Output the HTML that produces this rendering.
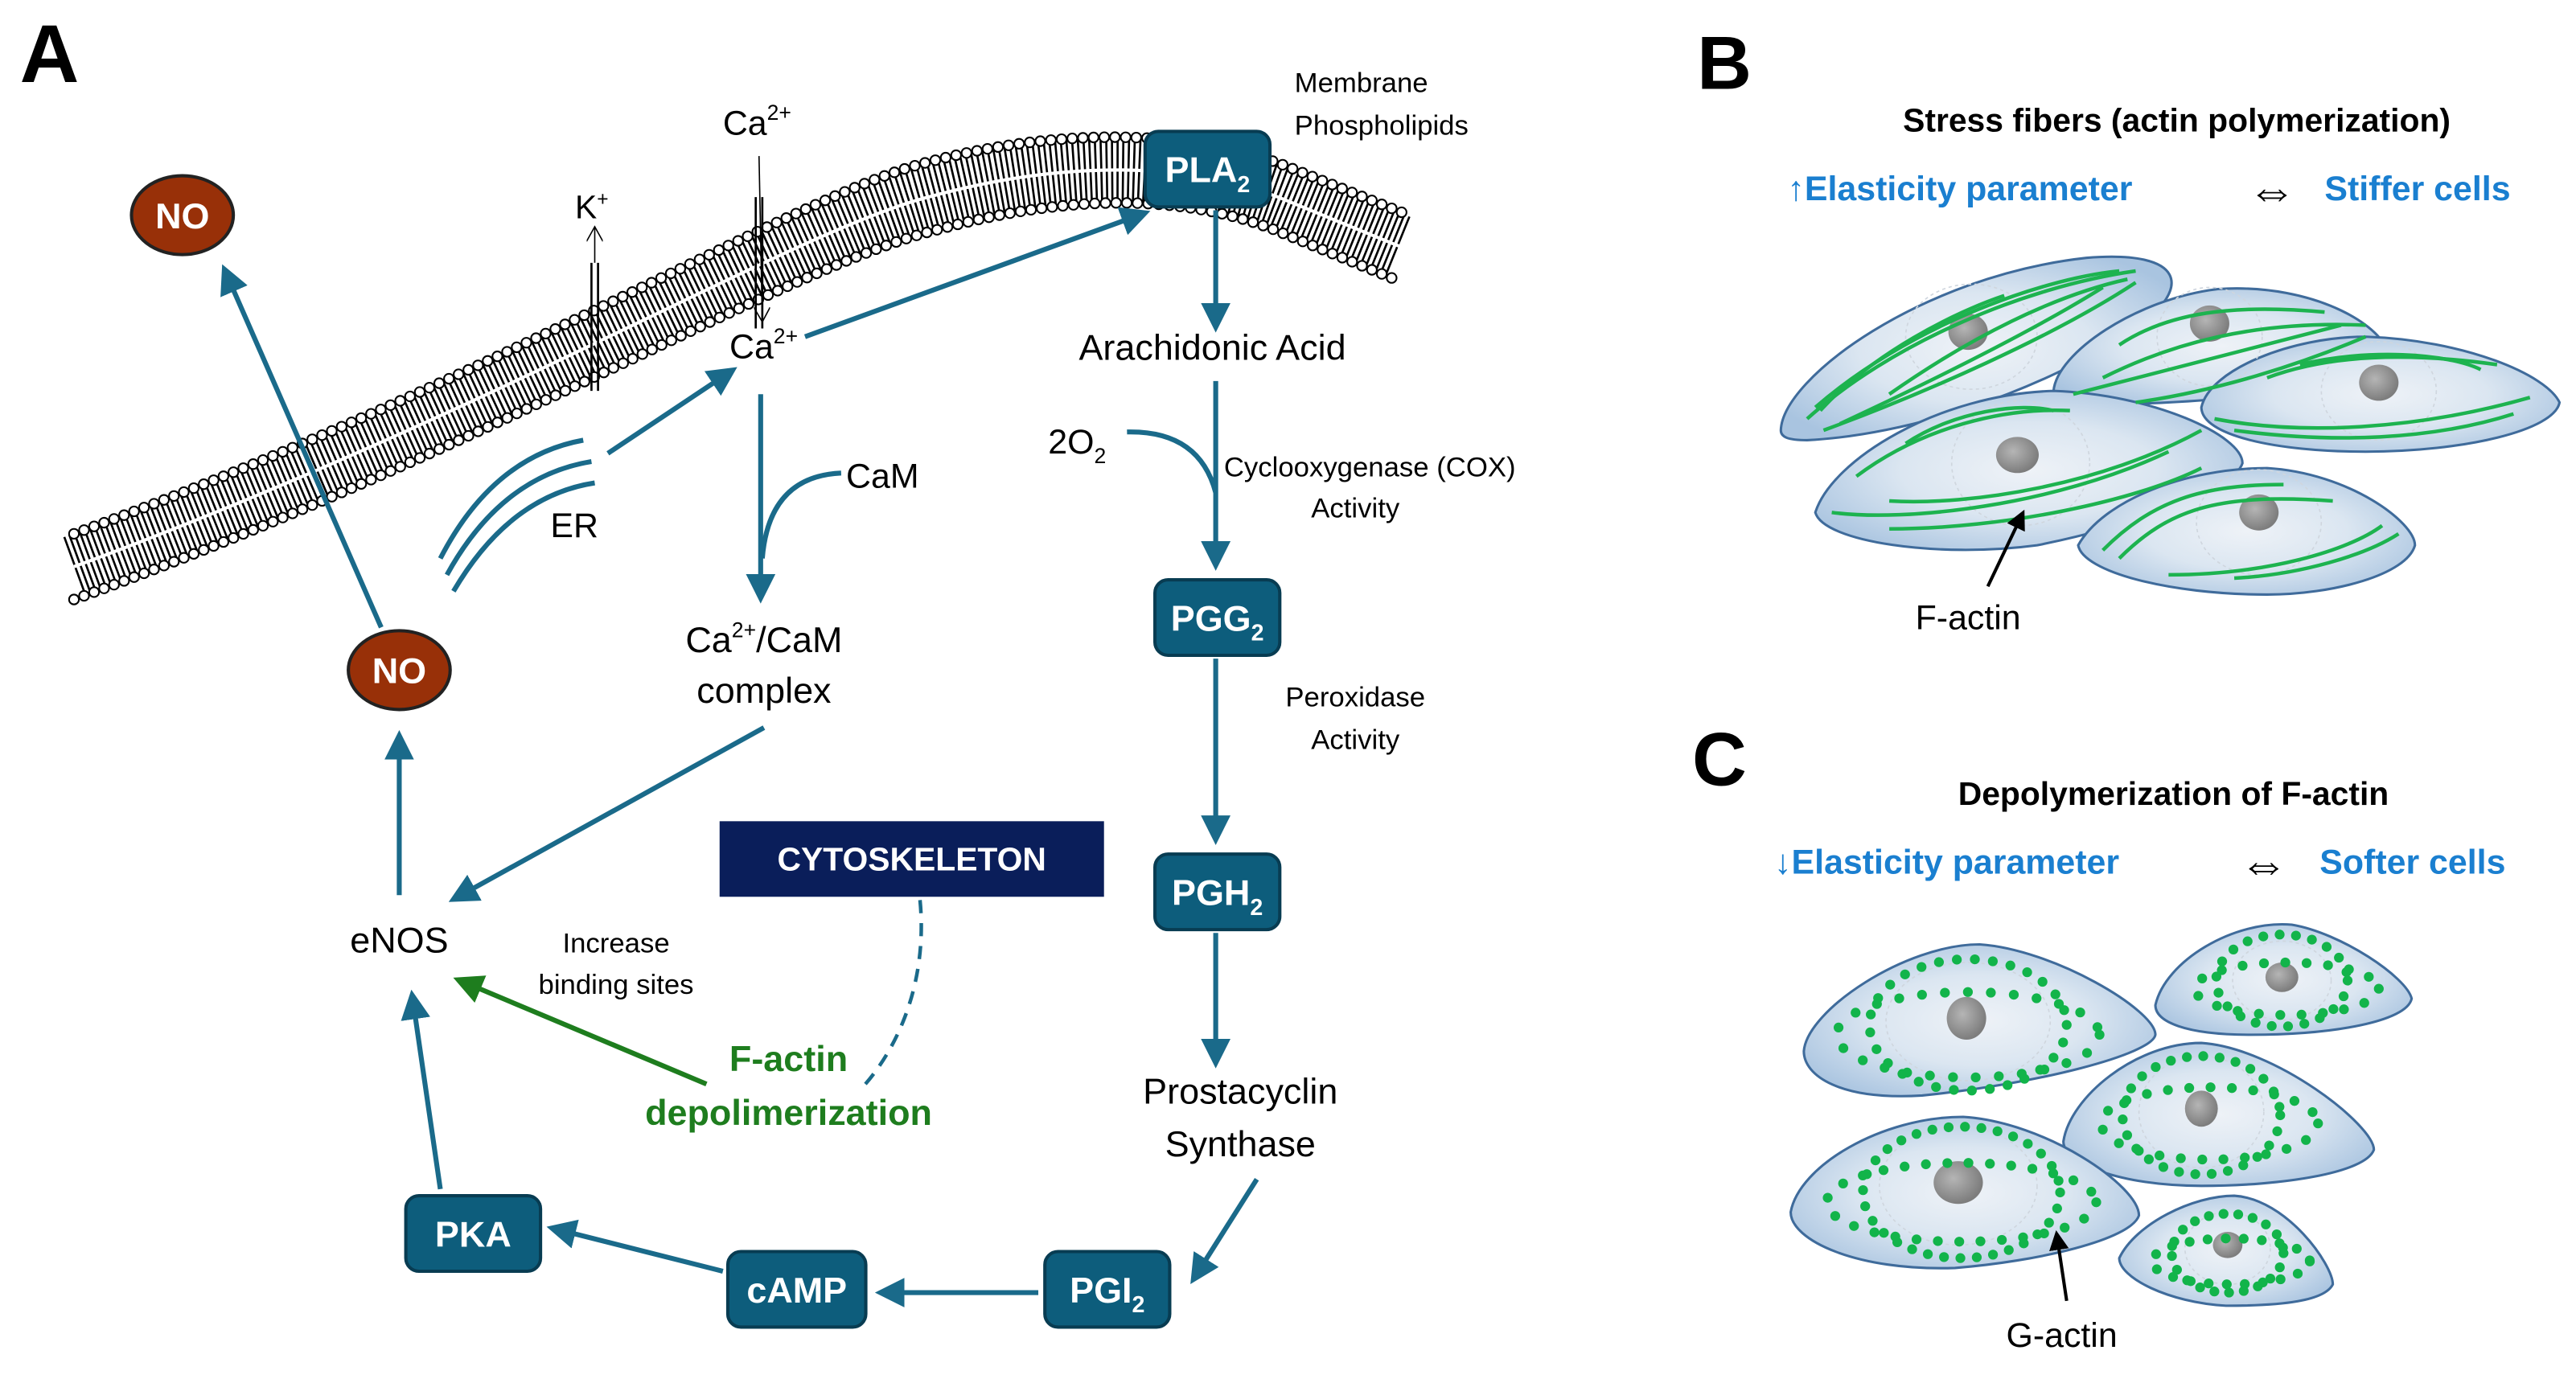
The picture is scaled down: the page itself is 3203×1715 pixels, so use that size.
<!DOCTYPE html>
<html><head><meta charset="utf-8"><style>
html,body{margin:0;padding:0;background:#fff;}
svg{display:block;}
text{font-family:"Liberation Sans","DejaVu Sans",sans-serif;}
</style></head><body>
<svg width="3203" height="1715" viewBox="0 0 1568 839.6" xmlns="http://www.w3.org/2000/svg">
<defs>
<marker id="ah" markerWidth="6" markerHeight="6" refX="4.5" refY="3" orient="auto" markerUnits="strokeWidth"><path d="M0,0 L6,3 L0,6 Z" fill="#1a6a8a"/></marker>
<marker id="ag" markerWidth="6" markerHeight="6" refX="4.5" refY="3" orient="auto" markerUnits="strokeWidth"><path d="M0,0 L6,3 L0,6 Z" fill="#1e7d1e"/></marker>
<marker id="ak" markerWidth="6" markerHeight="6" refX="4.5" refY="3" orient="auto" markerUnits="strokeWidth"><path d="M0,0 L6,3 L0,6 Z" fill="#000"/></marker>
<marker id="at" markerWidth="10" markerHeight="10" refX="9" refY="5" orient="auto" markerUnits="userSpaceOnUse"><path d="M0,0 L9,5 L0,10" fill="none" stroke="#000" stroke-width="0.8"/></marker>
<radialGradient id="cg" cx="0.5" cy="0.5" r="0.6"><stop offset="0" stop-color="#eef2f7"/><stop offset="0.5" stop-color="#dbe6f1"/><stop offset="1" stop-color="#a9c4e0"/></radialGradient>
<radialGradient id="ng" cx="0.4" cy="0.4" r="0.6"><stop offset="0" stop-color="#b5b5b5"/><stop offset="1" stop-color="#7d7d7d"/></radialGradient>
</defs>

<!-- Membrane -->
<path d="M45,345 C300,252 480,142 565,120 C645,98 720,98 778,120 L852,150" fill="none" stroke="#000" stroke-width="38" stroke-dasharray="1.3 2"/>
<path d="M45,345 C300,252 480,142 565,120 C645,98 720,98 778,120 L852,150" fill="none" stroke="#fff" stroke-width="2"/>
<path d="M45,325 C300,232 480,122 560,100 C640,78 720,78 780,100 L855,130" fill="none" stroke="#000" stroke-width="7" stroke-linecap="round" stroke-dasharray="0 6.5"/>
<path d="M45,325 C300,232 480,122 560,100 C640,78 720,78 780,100 L855,130" fill="none" stroke="#fff" stroke-width="5" stroke-linecap="round" stroke-dasharray="0 6.5"/>
<path d="M45,365 C300,272 480,162 570,140 C650,118 720,118 776,140 L849,170" fill="none" stroke="#000" stroke-width="7" stroke-linecap="round" stroke-dasharray="0 6.5"/>
<path d="M45,365 C300,272 480,162 570,140 C650,118 720,118 776,140 L849,170" fill="none" stroke="#fff" stroke-width="5" stroke-linecap="round" stroke-dasharray="0 6.5"/>

<!-- channels -->
<line x1="360" y1="160" x2="360" y2="238" stroke="#000" stroke-width="1.3"/>
<line x1="364" y1="160" x2="364" y2="238" stroke="#000" stroke-width="1.3"/>
<line x1="362" y1="160" x2="362" y2="138" stroke="#000" stroke-width="0.8" marker-end="url(#at)"/>
<text x="350" y="133" font-size="20">K<tspan font-size="12" dy="-8">+</tspan></text>
<line x1="460" y1="120" x2="460" y2="200" stroke="#000" stroke-width="1.3"/>
<line x1="464" y1="120" x2="464" y2="200" stroke="#000" stroke-width="1.3"/>
<line x1="462" y1="95" x2="464" y2="196" stroke="#000" stroke-width="0.8" marker-end="url(#at)"/>
<text x="440" y="82" font-size="21">Ca<tspan font-size="13" dy="-9">2+</tspan></text>
<text x="444" y="218" font-size="21">Ca<tspan font-size="13" dy="-9">2+</tspan></text>

<text x="12" y="50" font-size="50" font-weight="bold">A</text>

<!-- NO circles -->
<ellipse cx="111" cy="131" rx="31" ry="24" fill="#983008" stroke="#222" stroke-width="2"/>
<text x="111" y="139" font-size="22" font-weight="bold" fill="#fff" text-anchor="middle">NO</text>
<ellipse cx="243" cy="408" rx="31" ry="24" fill="#983008" stroke="#222" stroke-width="2"/>
<text x="243" y="416" font-size="22" font-weight="bold" fill="#fff" text-anchor="middle">NO</text>

<g stroke="#1a6a8a" stroke-width="3" fill="none">
<line x1="232" y1="382" x2="137" y2="165" marker-end="url(#ah)"/>
<line x1="490" y1="205" x2="696" y2="130" marker-end="url(#ah)"/>
<line x1="740" y1="128" x2="740" y2="198" marker-end="url(#ah)"/>
<line x1="740" y1="232" x2="740" y2="343" marker-end="url(#ah)"/>
<path d="M686,263 Q730,262 740,300"/>
<line x1="740" y1="401" x2="740" y2="510" marker-end="url(#ah)"/>
<line x1="740" y1="568" x2="740" y2="646" marker-end="url(#ah)"/>
<line x1="765" y1="718" x2="727" y2="778" marker-end="url(#ah)"/>
<line x1="632" y1="787" x2="537" y2="787" marker-end="url(#ah)"/>
<line x1="440" y1="774" x2="337" y2="748" marker-end="url(#ah)"/>
<line x1="268" y1="724" x2="251" y2="607" marker-end="url(#ah)"/>
<line x1="243" y1="545" x2="243" y2="449" marker-end="url(#ah)"/>
<line x1="465" y1="443" x2="277" y2="547" marker-end="url(#ah)"/>
<line x1="463" y1="240" x2="463" y2="363" marker-end="url(#ah)"/>
<path d="M512,288 Q468,290 464,340"/>
<line x1="370" y1="276" x2="445" y2="226" marker-end="url(#ah)"/>
<path d="M268,340 Q300,278 355,268"/>
<path d="M272,350 Q305,290 360,281"/>
<path d="M276,360 Q310,302 362,294"/>
<path d="M560,548 C565,600 545,640 525,662" stroke-dasharray="8 6" stroke-width="2.2"/>
</g>

<!-- boxes -->
<g fill="#0d5d7c" stroke="#083c52" stroke-width="2">
<rect x="697" y="80" width="76" height="46" rx="8"/>
<rect x="703" y="353" width="76" height="46" rx="8"/>
<rect x="703" y="520" width="76" height="46" rx="8"/>
<rect x="636" y="762" width="76" height="46" rx="8"/>
<rect x="443" y="762" width="84" height="46" rx="8"/>
<rect x="247" y="728" width="82" height="46" rx="8"/>
</g>
<g fill="#fff" font-weight="bold" font-size="22" text-anchor="middle">
<text x="735" y="111">PLA<tspan font-size="14" dy="6">2</tspan></text>
<text x="741" y="384">PGG<tspan font-size="14" dy="6">2</tspan></text>
<text x="741" y="551">PGH<tspan font-size="14" dy="6">2</tspan></text>
<text x="674" y="793">PGI<tspan font-size="14" dy="6">2</tspan></text>
<text x="485" y="793">cAMP</text>
<text x="288" y="759">PKA</text>
</g>
<rect x="438" y="500" width="234" height="46" fill="#0a1e5a"/>
<text x="555" y="530" fill="#fff" font-weight="bold" font-size="20" text-anchor="middle">CYTOSKELETON</text>

<!-- labels -->
<text x="788" y="56" font-size="17">Membrane</text>
<text x="788" y="82" font-size="17">Phospholipids</text>
<text x="738" y="219" font-size="22" text-anchor="middle">Arachidonic Acid</text>
<text x="638" y="276" font-size="21">2O<tspan font-size="13" dy="6">2</tspan></text>
<text x="745" y="290" font-size="17">Cyclooxygenase (COX)</text>
<text x="825" y="315" font-size="17" text-anchor="middle">Activity</text>
<text x="825" y="430" font-size="17" text-anchor="middle">Peroxidase</text>
<text x="825" y="456" font-size="17" text-anchor="middle">Activity</text>
<text x="755" y="672" font-size="22" text-anchor="middle">Prostacyclin</text>
<text x="755" y="704" font-size="22" text-anchor="middle">Synthase</text>
<text x="243" y="580" font-size="22" text-anchor="middle">eNOS</text>
<text x="515" y="297" font-size="21">CaM</text>
<text x="465" y="397" font-size="22" text-anchor="middle">Ca<tspan font-size="13" dy="-9">2+</tspan><tspan dy="9">/CaM</tspan></text>
<text x="465" y="428" font-size="22" text-anchor="middle">complex</text>
<text x="335" y="327" font-size="21">ER</text>
<text x="375" y="580" font-size="17" text-anchor="middle">Increase</text>
<text x="375" y="605" font-size="17" text-anchor="middle">binding sites</text>
<text x="480" y="652" font-size="22" font-weight="bold" fill="#1e7d1e" text-anchor="middle">F-actin</text>
<text x="480" y="685" font-size="22" font-weight="bold" fill="#1e7d1e" text-anchor="middle">depolimerization</text>
<line x1="430" y1="660" x2="280" y2="597" stroke="#1e7d1e" stroke-width="3" marker-end="url(#ag)"/>

<!-- Panel B -->
<text x="1033" y="54" font-size="46" font-weight="bold">B</text>
<text x="1325" y="80" font-size="20" font-weight="bold" text-anchor="middle">Stress fibers (actin polymerization)</text>
<text x="1088" y="122" font-size="21" font-weight="bold" fill="#1a7fd0">↑Elasticity parameter</text>
<text x="1383" y="126" font-size="30" text-anchor="middle">⇔</text>
<text x="1415" y="122" font-size="21" font-weight="bold" fill="#1a7fd0">Stiffer cells</text>

<g stroke="#3f6b9b" stroke-width="1.5" fill="url(#cg)">
<path d="M1084,262 C1085,230 1170,168 1270,157 C1330,152 1335,175 1300,200 C1240,240 1160,265 1100,268 C1088,268 1084,266 1084,262Z"/>
<path d="M1250,238 C1252,215 1300,182 1350,176 C1410,172 1455,200 1455,220 C1450,232 1400,240 1350,243 C1300,247 1252,248 1250,238Z"/>
<path d="M1340,248 C1345,225 1395,205 1440,205 C1500,207 1550,228 1558,245 C1555,262 1500,275 1440,275 C1385,275 1340,265 1340,248Z"/>
<path d="M1105,312 C1115,280 1180,240 1250,238 C1310,240 1365,265 1365,282 C1360,298 1300,320 1240,332 C1180,340 1110,330 1105,312Z"/>
<path d="M1265,332 C1280,305 1330,285 1380,285 C1430,288 1470,318 1470,332 C1465,350 1420,362 1380,362 C1320,362 1268,348 1265,332Z"/>
</g>
<g fill="none" stroke="#cfd6de" stroke-width="0.8" stroke-dasharray="2 2">
<ellipse cx="1200" cy="205" rx="40" ry="32"/><ellipse cx="1345" cy="205" rx="32" ry="30"/><ellipse cx="1448" cy="238" rx="35" ry="30"/><ellipse cx="1230" cy="282" rx="42" ry="38"/><ellipse cx="1375" cy="318" rx="38" ry="32"/>
</g>
<g fill="url(#ng)">
<ellipse cx="1198" cy="202" rx="12" ry="11"/>
<ellipse cx="1345" cy="197" rx="12" ry="11"/>
<ellipse cx="1448" cy="233" rx="12" ry="11"/>
<ellipse cx="1228" cy="277" rx="13" ry="11"/>
<ellipse cx="1375" cy="312" rx="12" ry="11"/>
</g>
<g stroke="#1db34f" stroke-width="2.2" fill="none">
<path d="M1100,255 C1150,210 1230,175 1300,165"/><path d="M1105,248 C1160,200 1240,170 1290,165"/><path d="M1110,262 C1170,240 1250,205 1300,172"/><path d="M1120,258 C1180,230 1240,200 1280,175"/><path d="M1150,240 C1200,205 1250,180 1295,170"/><path d="M1108,250 C1140,215 1190,190 1220,180"/>
<path d="M1262,240 C1300,230 1360,215 1425,198"/><path d="M1280,230 C1320,210 1370,195 1440,198"/><path d="M1290,210 C1320,190 1360,185 1415,190"/><path d="M1300,245 C1350,238 1400,222 1440,205"/>
<path d="M1348,255 C1400,265 1470,262 1540,242"/><path d="M1380,230 C1420,215 1470,215 1520,222"/><path d="M1360,262 C1420,270 1480,268 1530,252"/><path d="M1400,222 C1440,212 1490,215 1510,225"/>
<path d="M1115,312 C1160,318 1250,308 1320,275"/><path d="M1150,305 C1200,308 1280,295 1340,262"/><path d="M1130,290 C1170,260 1220,248 1260,250"/><path d="M1160,270 C1190,250 1230,245 1250,250"/><path d="M1150,322 C1220,322 1300,305 1340,285"/>
<path d="M1280,335 C1310,305 1340,295 1390,295"/><path d="M1290,340 C1320,310 1350,300 1420,305"/><path d="M1320,350 C1380,350 1430,335 1450,320"/><path d="M1360,352 C1400,350 1440,338 1460,325"/>
</g>
<line x1="1210" y1="357" x2="1231" y2="313" stroke="#000" stroke-width="2" marker-end="url(#ak)"/>
<text x="1198" y="383" font-size="21" text-anchor="middle">F-actin</text>

<!-- Panel C -->
<text x="1030" y="478" font-size="46" font-weight="bold">C</text>
<text x="1323" y="490" font-size="20" font-weight="bold" text-anchor="middle">Depolymerization of F-actin</text>
<text x="1080" y="532" font-size="21" font-weight="bold" fill="#1a7fd0">↓Elasticity parameter</text>
<text x="1378" y="536" font-size="30" text-anchor="middle">⇔</text>
<text x="1412" y="532" font-size="21" font-weight="bold" fill="#1a7fd0">Softer cells</text>

<g stroke="#3f6b9b" stroke-width="1.5" fill="url(#cg)">
<path d="M1098,640 C1100,615 1160,575 1205,575 C1250,578 1312,615 1312,630 C1310,642 1240,660 1170,667 C1120,670 1098,655 1098,640Z"/>
<path d="M1312,612 C1318,585 1360,560 1395,563 C1425,568 1465,595 1468,608 C1465,622 1420,630 1370,630 C1330,630 1312,622 1312,612Z"/>
<path d="M1256,695 C1260,668 1300,635 1340,635 C1385,638 1445,685 1445,700 C1440,714 1390,722 1340,722 C1290,722 1256,708 1256,695Z"/>
<path d="M1090,738 C1095,710 1145,680 1195,680 C1245,683 1302,722 1302,740 C1297,755 1240,768 1190,772 C1130,774 1090,755 1090,738Z"/>
<path d="M1290,766 C1300,745 1335,728 1360,728 C1392,730 1420,770 1420,782 C1415,792 1390,795 1355,795 C1320,793 1290,778 1290,766Z"/>
</g>
<g fill="none" stroke="#cfd6de" stroke-width="0.8" stroke-dasharray="2 2">
<ellipse cx="1198" cy="622" rx="50" ry="36"/><ellipse cx="1389" cy="597" rx="30" ry="24"/><ellipse cx="1340" cy="677" rx="38" ry="34"/><ellipse cx="1192" cy="722" rx="48" ry="36"/><ellipse cx="1356" cy="760" rx="26" ry="22"/>
</g>
<g fill="url(#ng)">
<ellipse cx="1197" cy="620" rx="12" ry="13"/>
<ellipse cx="1389" cy="595" rx="10" ry="9"/>
<ellipse cx="1340" cy="675" rx="10" ry="11"/>
<ellipse cx="1192" cy="720" rx="15" ry="13"/>
<ellipse cx="1356" cy="758" rx="9" ry="8"/>
</g>
<g fill="none" stroke="#12b44a" stroke-linecap="round" stroke-width="6">
<ellipse cx="1198" cy="624" rx="60" ry="40" stroke-dasharray="0 11"/><ellipse cx="1198" cy="630" rx="80" ry="26" stroke-dasharray="0 14"/>
<ellipse cx="1389" cy="597" rx="40" ry="28" stroke-dasharray="0 10"/><ellipse cx="1392" cy="602" rx="56" ry="16" stroke-dasharray="0 13"/>
<ellipse cx="1340" cy="679" rx="48" ry="36" stroke-dasharray="0 10"/><ellipse cx="1345" cy="684" rx="66" ry="22" stroke-dasharray="0 13"/>
<ellipse cx="1194" cy="726" rx="60" ry="40" stroke-dasharray="0 10"/><ellipse cx="1194" cy="732" rx="82" ry="24" stroke-dasharray="0 13"/>
<ellipse cx="1356" cy="763" rx="34" ry="24" stroke-dasharray="0 9"/><ellipse cx="1358" cy="768" rx="48" ry="14" stroke-dasharray="0 11"/>
</g>
<line x1="1258" y1="792" x2="1252" y2="752" stroke="#000" stroke-width="2" marker-end="url(#ak)"/>
<text x="1255" y="820" font-size="21" text-anchor="middle">G-actin</text>
</svg>
</body></html>
